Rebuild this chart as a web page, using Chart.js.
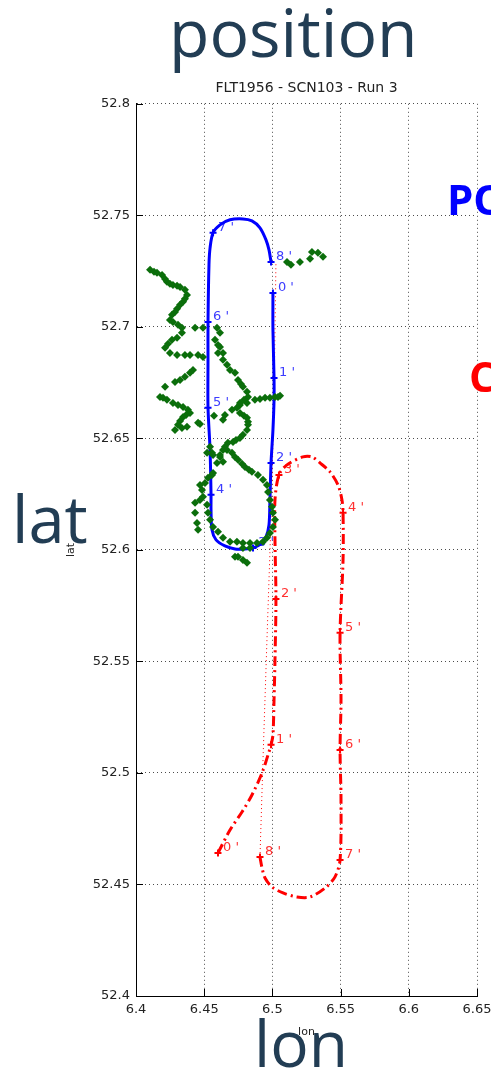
<!DOCTYPE html>
<html>
<head>
<meta charset="utf-8">
<title>position</title>
<script src="https://cdn.jsdelivr.net/npm/chart.js@4.4.0/dist/chart.umd.min.js"></script>
<style>
    html, body { margin: 0; padding: 0; background: #fff; overflow: hidden; }
    #wrap { position: relative; width: 491px; height: 1072px; }
    #myChart { position: absolute; left: 0; top: 0; }
    .big { position: absolute; font-family: 'Open Sans', sans-serif; color: #223d54; font-size: 64px; line-height: 64px; white-space: nowrap; }
    .tag { position: absolute; font-family: 'Open Sans', sans-serif; font-weight: bold; font-size: 42px; line-height: 42px; white-space: nowrap; }
</style>
</head>
<body>
<div id="wrap">
    <canvas id="myChart" width="491" height="1072"></canvas>
    <div class="big" style="left:169px; top:-1px; font-size:66px;">position</div>
    <div class="big" style="left:12px; top:486px; font-size:65px;">lat</div>
    <div class="big" style="left:254px; top:1011px;">lon</div>
    <div class="tag" style="left:447px; top:178px; color:#0000ff;">PO</div>
    <div class="tag" style="left:469px; top:355px; color:#ff0000;">C</div>
</div>

<script>
// axis ticks
var xTicks = [6.4, 6.45, 6.5, 6.55, 6.6, 6.65];
var xTickLabels = ['6.4', '6.45', '6.5', '6.55', '6.6', '6.65'];
var yTicks = [52.4, 52.45, 52.5, 52.55, 52.6, 52.65, 52.7, 52.75, 52.8];
var yTickLabels = ['52.4', '52.45', '52.5', '52.55', '52.6', '52.65', '52.7', '52.75', '52.8'];

// blue track
var blueLon = [6.5004, 6.5004, 6.5012, 6.5012, 6.5004, 6.4990, 6.4982, 6.4975, 6.4953, 6.4916,
    6.4858, 6.4799, 6.4726, 6.4652, 6.4587, 6.4557, 6.4550, 6.4550, 6.4543, 6.4528,
    6.4528, 6.4528, 6.4535, 6.4543, 6.4565, 6.4616, 6.4689, 6.4784, 6.4850, 6.4909,
    6.4953, 6.4975, 6.4990];
var blueLat = [52.7152, 52.6987, 52.6771, 52.6673, 52.6538, 52.6390, 52.6224, 52.6112, 52.6058, 52.6027,
    52.6009, 52.6004, 52.6004, 52.6018, 52.6045, 52.6090, 52.6179, 52.6247, 52.6448, 52.6637,
    52.6852, 52.7022, 52.7278, 52.7354, 52.7422, 52.7457, 52.7480, 52.7484, 52.7475, 52.7444,
    52.7390, 52.7345, 52.7291];
var blueTimeLon = [6.5004, 6.5012, 6.4990, 6.4858, 6.4550, 6.4528, 6.4528, 6.4565, 6.4990];
var blueTimeLat = [52.7152, 52.6771, 52.6390, 52.6009, 52.6247, 52.6637, 52.7022, 52.7422, 52.7291];

// red track (dash-dot)
var redLon = [6.4601, 6.4689, 6.4777, 6.4850, 6.4924, 6.4968, 6.4990, 6.5004, 6.5012, 6.5019,
    6.5026, 6.5019, 6.5019, 6.5048, 6.5107, 6.5224, 6.5290, 6.5349, 6.5422, 6.5481,
    6.5510, 6.5518, 6.5518, 6.5496, 6.5503, 6.5496, 6.5503, 6.5496, 6.5459, 6.5386,
    6.5276, 6.5180, 6.5078, 6.4997, 6.4946, 6.4924, 6.4909];
var redLat = [52.4641, 52.4744, 52.4825, 52.4901, 52.5000, 52.5081, 52.5126, 52.5170, 52.5327, 52.5507,
    52.5780, 52.6045, 52.6224, 52.6336, 52.6381, 52.6417, 52.6417, 52.6390, 52.6350, 52.6291,
    52.6224, 52.6166, 52.5955, 52.5628, 52.5327, 52.5103, 52.4879, 52.4610, 52.4534, 52.4484,
    52.4444, 52.4444, 52.4462, 52.4489, 52.4529, 52.4574, 52.4623];
var redTimeLon = [6.4601, 6.4990, 6.5026, 6.5048, 6.5518, 6.5496, 6.5496, 6.5496, 6.4909];
var redTimeLat = [52.4641, 52.5126, 52.5780, 52.6336, 52.6166, 52.5628, 52.5103, 52.4610, 52.4623];

// red dotted link
var linkLon = [6.4909, 6.4931, 6.4960, 6.4990, 6.5012, 6.5026];
var linkLat = [52.4623, 52.5058, 52.5596, 52.6135, 52.6673, 52.7291];

var timeLabels = ["0 '", "1 '", "2 '", "3 '", "4 '", "5 '", "6 '", "7 '", "8 '"];

// green track
var greenLon = [
    6.5107, 6.5136, 6.5202, 6.5276, 6.5290, 6.5334, 6.5371,
    6.4103, 6.4132, 6.4154, 6.4191, 6.4213, 6.4227, 6.4249, 6.4271, 6.4301, 6.4323,
    6.4359, 6.4374, 6.4359, 6.4345, 6.4323, 6.4301, 6.4286, 6.4264, 6.4249, 6.4271,
    6.4308, 6.4337, 6.4337, 6.4301, 6.4264, 6.4235, 6.4213, 6.4249, 6.4301, 6.4359,
    6.4396, 6.4433, 6.4491, 6.4455, 6.4491,
    6.4286, 6.4323, 6.4359, 6.4396, 6.4418,
    6.4213, 6.4176, 6.4198, 6.4227, 6.4271, 6.4308, 6.4345, 6.4381, 6.4396, 6.4367,
    6.4345, 6.4323, 6.4308, 6.4286, 6.4337, 6.4374,
    6.4455, 6.4469, 6.4572, 6.4638, 6.4652, 6.4704, 6.4762, 6.4814, 6.4872, 6.4909,
    6.4946, 6.4982, 6.5019, 6.5041, 6.5056,
    6.4594, 6.4616, 6.4579, 6.4601, 6.4616, 6.4638, 6.4601, 6.4638, 6.4667, 6.4689,
    6.4726, 6.4748, 6.4770, 6.4784, 6.4814, 6.4821, 6.4792, 6.4762, 6.4740, 6.4762,
    6.4792, 6.4814, 6.4821, 6.4821, 6.4814, 6.4784, 6.4762, 6.4733, 6.4711, 6.4674,
    6.4652, 6.4638, 6.4616, 6.4543, 6.4557,
    6.4667, 6.4704, 6.4726, 6.4748, 6.4777, 6.4799, 6.4828, 6.4850, 6.4894, 6.4931,
    6.4960, 6.4968, 6.4982, 6.4997, 6.5004, 6.5019, 6.5004, 6.4982, 6.4960, 6.4931,
    6.4887, 6.4836, 6.4784, 6.4740, 6.4689, 6.4638, 6.4601, 6.4565, 6.4543, 6.4528,
    6.4521, 6.4491, 6.4484, 6.4469, 6.4506, 6.4528, 6.4557, 6.4565,
    6.4433, 6.4433, 6.4447, 6.4455, 6.4469,
    6.4521, 6.4565, 6.4594, 6.4638, 6.4616,
    6.4726, 6.4748, 6.4784, 6.4814,
    6.4784, 6.4836];
var greenLat = [
    52.7291, 52.7278, 52.7291, 52.7305, 52.7336, 52.7332, 52.7314,
    52.7256, 52.7247, 52.7242, 52.7233, 52.7215, 52.7202, 52.7193, 52.7188, 52.7184, 52.7179,
    52.7166, 52.7143, 52.7126, 52.7112, 52.7099, 52.7081, 52.7067, 52.7054, 52.7031, 52.7022,
    52.7009, 52.6996, 52.6973, 52.6951, 52.6942, 52.6924, 52.6906, 52.6883, 52.6874, 52.6874,
    52.6874, 52.6996, 52.6996, 52.6874, 52.6865,
    52.6753, 52.6762, 52.6776, 52.6794, 52.6807,
    52.6731, 52.6686, 52.6682, 52.6673, 52.6659, 52.6650, 52.6641, 52.6628, 52.6614, 52.6605,
    52.6596, 52.6578, 52.6561, 52.6538, 52.6547, 52.6552,
    52.6570, 52.6565, 52.6601, 52.6583, 52.6605, 52.6628, 52.6650, 52.6659, 52.6673, 52.6677,
    52.6682, 52.6682, 52.6686, 52.6686, 52.6691,
    52.6996, 52.6973, 52.6942, 52.6919, 52.6910, 52.6883, 52.6883, 52.6852, 52.6830, 52.6807,
    52.6794, 52.6762, 52.6744, 52.6731, 52.6709, 52.6686, 52.6673, 52.6659, 52.6637, 52.6614,
    52.6601, 52.6592, 52.6574, 52.6561, 52.6538, 52.6516, 52.6502, 52.6493, 52.6484, 52.6480,
    52.6462, 52.6448, 52.6417, 52.6462, 52.6435,
    52.6448, 52.6435, 52.6417, 52.6404, 52.6386, 52.6372, 52.6359, 52.6350, 52.6336, 52.6314,
    52.6291, 52.6260, 52.6224, 52.6193, 52.6166, 52.6135, 52.6103, 52.6076, 52.6054, 52.6036,
    52.6031, 52.6031, 52.6031, 52.6036, 52.6036, 52.6054, 52.6081, 52.6103, 52.6135, 52.6166,
    52.6202, 52.6238, 52.6269, 52.6291, 52.6300, 52.6323, 52.6336, 52.6345,
    52.6211, 52.6166, 52.6121, 52.6090, 52.6224,
    52.6435, 52.6426, 52.6390, 52.6395, 52.6426,
    52.5969, 52.5969, 52.5955, 52.5942,
    52.6009, 52.6009];

function pts(lon, lat) {
    return lon.map(function (v, i) { return { x: v, y: lat[i] }; });
}

// time labels next to the markers + inward tick marks like matlab
var extras = {
    id: 'extras',
    beforeDatasetsDraw: function (chart) {
        var ctx = chart.ctx, x = chart.scales.x, y = chart.scales.y;
        ctx.save();
        ctx.font = '13px "DejaVu Sans"';
        ctx.textBaseline = 'alphabetic';
        function put(lon, lat, color) {
            ctx.fillStyle = color;
            for (var i = 0; i < lon.length; i++) {
                ctx.fillText(timeLabels[i], x.getPixelForValue(lon[i]) + 5, y.getPixelForValue(lat[i]) - 2);
            }
        }
        put(blueTimeLon, blueTimeLat, '#3c3cff');
        put(redTimeLon, redTimeLat, '#ff3030');
        ctx.restore();
    },
    afterDraw: function (chart) {
        var ctx = chart.ctx, x = chart.scales.x, y = chart.scales.y, a = chart.chartArea;
        ctx.save();
        ctx.strokeStyle = '#000';
        ctx.lineWidth = 1;
        ctx.beginPath();
        xTicks.forEach(function (v) {
            var px = Math.round(x.getPixelForValue(v)) + 0.5;
            ctx.moveTo(px, a.bottom);
            ctx.lineTo(px, a.bottom - 7);
        });
        yTicks.forEach(function (v) {
            var py = Math.round(y.getPixelForValue(v)) + 0.5;
            ctx.moveTo(a.left, py);
            ctx.lineTo(a.left + 7, py);
        });
        ctx.stroke();
        ctx.restore();
    }
};

var tickFont = { family: 'DejaVu Sans', size: 13 };

new Chart(document.getElementById('myChart'), {
    type: 'scatter',
    data: {
        datasets: [
            {
                label: 'green',
                data: pts(greenLon, greenLat),
                showLine: false,
                pointStyle: 'rectRot',
                pointRadius: 4,
                backgroundColor: '#0b6e0b',
                borderWidth: 0,
                order: 0
            },
            {
                label: 'blue marks',
                data: pts(blueTimeLon, blueTimeLat),
                showLine: false,
                pointStyle: 'cross',
                pointRadius: 3.5,
                borderColor: '#0000ff',
                borderWidth: 2,
                order: 1
            },
            {
                label: 'red marks',
                data: pts(redTimeLon, redTimeLat),
                showLine: false,
                pointStyle: 'cross',
                pointRadius: 3.5,
                borderColor: '#ff0000',
                borderWidth: 2,
                order: 1
            },
            {
                label: 'blue',
                data: pts(blueLon, blueLat),
                showLine: true,
                borderColor: '#0000ff',
                borderWidth: 3,
                pointRadius: 0,
                tension: 0.3,
                order: 2
            },
            {
                label: 'red',
                data: pts(redLon, redLat),
                showLine: true,
                borderColor: '#ff0000',
                borderWidth: 3,
                borderDash: [10, 4, 2, 4],
                pointRadius: 0,
                tension: 0.3,
                order: 3
            },
            {
                label: 'link',
                data: pts(linkLon, linkLat),
                showLine: true,
                borderColor: '#ff0000',
                borderWidth: 1,
                borderDash: [1, 3],
                pointRadius: 0,
                order: 4
            }
        ]
    },
    options: {
        responsive: false,
        devicePixelRatio: 1,
        animation: false,
        events: [],
        layout: { padding: { top: 80, left: 60, right: 14, bottom: 0 } },
        plugins: {
            legend: { display: false },
            tooltip: { enabled: false },
            title: {
                display: true,
                text: 'FLT1956 - SCN103 - Run 3',
                fullSize: false,
                font: { family: 'DejaVu Sans', size: 14, weight: 'normal' },
                color: '#222',
                padding: { top: 0, bottom: 7 }
            }
        },
        scales: {
            x: {
                type: 'linear',
                min: 6.4,
                max: 6.65,
                afterBuildTicks: function (s) { s.ticks = xTicks.map(function (v) { return { value: v }; }); },
                afterFit: function (s) { s.height = 76; s.paddingLeft = 0; s.paddingRight = 0; },
                ticks: {
                    callback: function (v, i) { return xTickLabels[i]; },
                    font: tickFont, color: '#222', padding: 6, maxRotation: 0, autoSkip: false
                },
                title: { display: true, text: 'lon', font: { family: 'DejaVu Sans', size: 11 }, color: '#222', padding: { top: 0, bottom: 33 } },
                grid: { color: 'rgba(0,0,0,0.7)', lineWidth: 1, drawTicks: false },
                border: { display: true, color: '#000', width: 1, dash: [1, 3] }
            },
            y: {
                type: 'linear',
                min: 52.4,
                max: 52.8,
                afterBuildTicks: function (s) { s.ticks = yTicks.map(function (v) { return { value: v }; }); },
                afterFit: function (s) { s.width = 76; s.paddingTop = 0; s.paddingBottom = 0; },
                ticks: {
                    callback: function (v, i) { return yTickLabels[i]; },
                    font: tickFont, color: '#222', padding: 6, autoSkip: false
                },
                title: { display: true, text: 'lat', font: { family: 'DejaVu Sans', size: 11 }, color: '#222', padding: { top: 5, bottom: 0 } },
                grid: { color: 'rgba(0,0,0,0.7)', lineWidth: 1, drawTicks: false },
                border: { display: true, color: '#000', width: 1, dash: [1, 3] }
            }
        }
    },
    plugins: [extras]
});
</script>
</body>
</html>
